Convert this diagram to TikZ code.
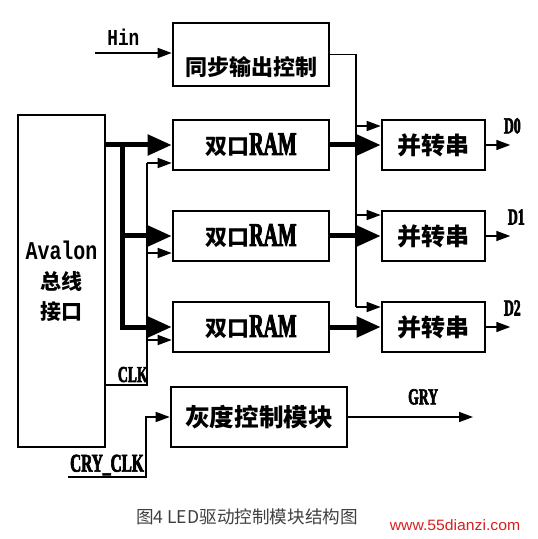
\documentclass[tikz,border=0pt]{standalone}
\usepackage{fontspec}
\newfontfamily\cjk{Noto Sans CJK SC}
\newfontfamily\latn{Liberation Serif Bold}[FakeStretch=0.6, FakeBold=2.5]
\newfontfamily\mono{Liberation Mono}[FakeStretch=0.78]
\newfontfamily\web{Liberation Sans}[FakeStretch=1.05]
\usetikzlibrary{arrows.meta, positioning}
\definecolor{webred}{RGB}{215,30,30}
\newcommand{\latb}[1]{{\latn #1}}

\begin{document}
\begin{tikzpicture}[x=0.5pt, y=-0.5pt,
    block/.style={rectangle, draw=black, line width=1.3pt, inner sep=0pt, text centered, font=\cjk\bfseries\fontsize{11}{13}\selectfont},
    ramblock/.style={block, minimum width=78pt, minimum height=25pt},
    ptsblock/.style={block, minimum width=51.5pt, minimum height=25pt, font=\cjk\bfseries\fontsize{12}{14}\selectfont},
    wire/.style={line width=0.8pt},
    sig/.style={wire, -{Triangle[length=7pt, width=5pt]}},
    bus/.style={line width=2.5pt, -{Triangle[length=12pt, width=10pt]}},
    lat/.style={font=\latn\fontsize{11.4}{13}\selectfont},
    mn/.style={font=\mono\bfseries\fontsize{11.4}{13}\selectfont}
]
    \useasboundingbox (0,0) rectangle (537,539);

    % Blocks
    \node[block, minimum width=78pt, minimum height=31.5pt,
          label={[font=\cjk\bfseries\fontsize{11}{13}\selectfont, yshift=-6.5pt]center:同步输出控制}] (sync) at (251,54.5) {};
    \node[block, minimum width=43.5pt, minimum height=166pt, align=center,
          font=\cjk\bfseries\fontsize{10.5}{15}\selectfont] (avalon) at (61.5,281)
          {{\mono\bfseries\fontsize{12.8}{15}\selectfont Avalon}\\总线\\接口};
    \node[ramblock] (ram1) at (251,145) {双口\latb{\fontsize{16.5}{18}\selectfont RAM}};
    \node[ramblock] (ram2) at (251,236) {双口\latb{\fontsize{16.5}{18}\selectfont RAM}};
    \node[ramblock] (ram3) at (251,327) {双口\latb{\fontsize{16.5}{18}\selectfont RAM}};
    \node[ptsblock] (pts1) at (433.5,145) {并转串};
    \node[ptsblock] (pts2) at (433.5,236) {并转串};
    \node[ptsblock] (pts3) at (433.5,327) {并转串};
    \node[block, minimum width=88pt, minimum height=30pt,
          font=\cjk\bfseries\fontsize{12.3}{14}\selectfont] (gray) at (259,417) {灰度控制模块};

    % Free ends and bends
    \coordinate (hin) at (95,53);
    \coordinate (sbus) at (356,54.5);
    \coordinate (db) at (122,145);
    \coordinate (clk) at (147,385);
    \coordinate (cry) at (68,477);
    \coordinate (crybend) at (146,477);
    \coordinate (gryout) at (473,417);
    \coordinate (s1) at ([yshift=9.5pt]pts1.west);
    \coordinate (s2) at ([yshift=10.5pt]pts2.west);
    \coordinate (s3) at ([yshift=10pt]pts3.west);
    \coordinate (c1) at ([yshift=-9pt]ram1.west);
    \coordinate (c2) at ([yshift=-8.5pt]ram2.west);
    \coordinate (c3) at ([yshift=-6.5pt]ram3.west);
    \coordinate (d1) at ([xshift=12pt]pts1.east);
    \coordinate (d2) at ([xshift=12pt]pts2.east);
    \coordinate (d3) at ([xshift=12pt]pts3.east);

    % Sync control
    \draw[sig] (hin) -- node[mn, above, pos=0.37] {Hin} (sync.west |- hin);
    \draw[wire] (sync.east) -| (sbus |- s3);
    \draw[sig] (sbus |- s1) -- (s1);
    \draw[sig] (sbus |- s2) -- (s2);
    \draw[sig] (sbus |- s3) -- (s3);

    % Data bus
    \draw[bus] (avalon.east |- ram1) -- (ram1);
    \draw[bus] (db) -- (db |- ram3) -- (ram3);
    \draw[bus] (db |- ram2) -- (ram2);

    % Clock
    \draw[wire] (avalon.east |- clk) -- node[lat, above, pos=0.65, inner sep=1pt] {CLK} (clk) -- (clk |- c1);
    \draw[sig] (clk |- c1) -- (c1);
    \draw[sig] (clk |- c2) -- (c2);
    \draw[sig] (clk |- c3) -- (c3);

    % RAM to serialiser
    \draw[bus] (ram1) -- (pts1);
    \draw[bus] (ram2) -- (pts2);
    \draw[bus] (ram3) -- (pts3);

    % Outputs
    \draw[sig] (pts1.east) -- (d1) node[lat, anchor=south, xshift=1pt, yshift=2pt] {D0};
    \draw[sig] (pts2.east) -- (d2) node[lat, anchor=south, xshift=3pt, yshift=2pt] {D1};
    \draw[sig] (pts3.east) -- (d3) node[lat, anchor=south, xshift=1pt, yshift=2pt] {D2};

    % Grey scale
    \draw[sig] (cry) -- node[above, inner sep=0.5pt, font=\latn\fontsize{12.8}{14}\selectfont] {CRY\_CLK} (crybend) |- (gray.west);
    \draw[sig] (gray.east) -- node[lat, above=2.5pt, pos=0.6] {GRY} (gryout);

    % Caption
    \node[font=\cjk\fontsize{8.8}{10}\selectfont, text=black!75] (caption) at (247,517) {图4 LED驱动控制模块结构图};
    \node[font=\web\fontsize{7.5}{9}\selectfont, text=webred] (site) at (455,525) {www.55dianzi.com};

\end{tikzpicture}
\end{document}
